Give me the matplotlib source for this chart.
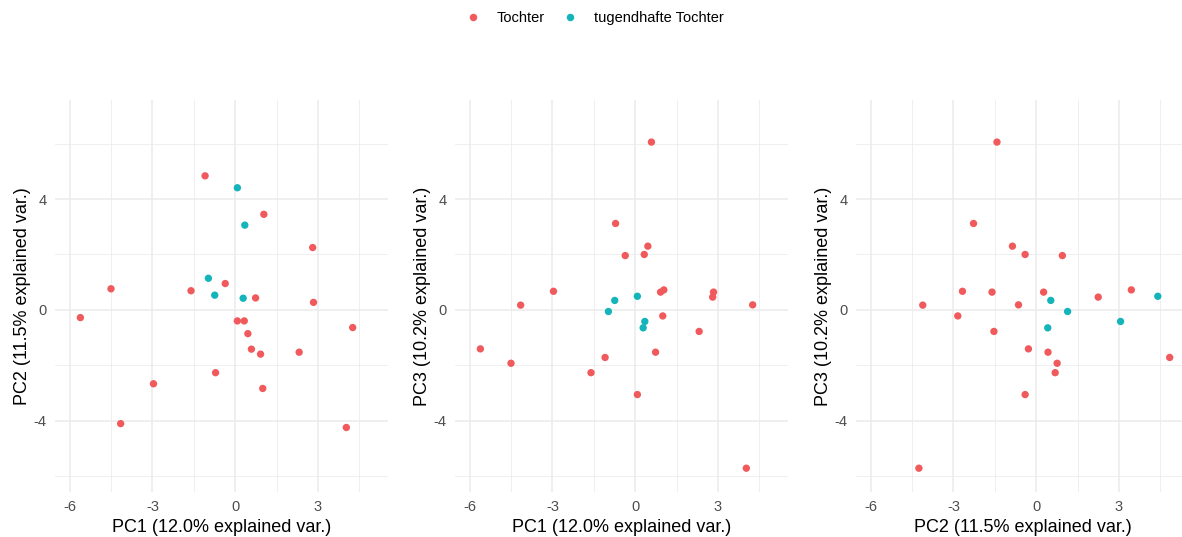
import matplotlib.pyplot as plt
from matplotlib.lines import Line2D
from matplotlib.ticker import MultipleLocator

plt.rcParams['font.family'] = ['Liberation Sans', 'DejaVu Sans']
plt.rcParams['axes.unicode_minus'] = False

pc1 = [-5.61, -4.50, -4.15, -2.96, -1.60, -1.09, -0.71, -0.36, 0.08, 0.33, 0.46,
       0.59, 0.74, 0.92, 1.00, 1.04, 2.32, 2.81, 2.84, 4.03, 4.26,
       0.08, 0.35, -0.97, -0.74, 0.29]
pc2 = [-0.28, 0.76, -4.11, -2.67, 0.69, 4.84, -2.27, 0.95, -0.40, -0.40, -0.86,
       -1.42, 0.43, -1.60, -2.84, 3.45, -1.53, 2.25, 0.27, -4.25, -0.64,
       4.41, 3.06, 1.14, 0.53, 0.42]
pc3 = [-1.41, -1.93, 0.17, 0.67, -2.27, -1.72, 3.12, 1.96, -3.06, 2.00, 2.30,
       6.06, -1.53, 0.64, -0.22, 0.72, -0.78, 0.46, 0.64, -5.72, 0.18,
       0.49, -0.42, -0.06, 0.34, -0.65]
group = ['Tochter'] * 21 + ['tugendhafte Tochter'] * 5

groups = ['Tochter', 'tugendhafte Tochter']
colors = {'Tochter': '#F05A5C', 'tugendhafte Tochter': '#14B4BA'}

scores = {'PC1': pc1, 'PC2': pc2, 'PC3': pc3}
labels = {'PC1': 'PC1 (12.0% explained var.)',
          'PC2': 'PC2 (11.5% explained var.)',
          'PC3': 'PC3 (10.2% explained var.)'}
pairs = [('PC1', 'PC2'), ('PC1', 'PC3'), ('PC2', 'PC3')]

W, H = 1182, 537
fig = plt.figure(figsize=(W / 100, H / 100), dpi=100)

lefts = [55, 455, 856]
for left, (px, py) in zip(lefts, pairs):
    ax = fig.add_axes([left / W, (H - 492) / H, 333 / W, 392 / H])
    for g in groups:
        xs = [v for v, k in zip(scores[px], group) if k == g]
        ys = [v for v, k in zip(scores[py], group) if k == g]
        ax.scatter(xs, ys, s=28, color=colors[g], edgecolors='none', zorder=3)
    ax.set_xlim(-6.53, 5.54)
    ax.set_ylim(-6.58, 7.58)
    ax.xaxis.set_major_locator(MultipleLocator(3))
    ax.xaxis.set_minor_locator(MultipleLocator(1.5))
    ax.yaxis.set_major_locator(MultipleLocator(4))
    ax.yaxis.set_minor_locator(MultipleLocator(2))
    ax.grid(which='major', color='#EBEBEB', linewidth=1.1)
    ax.grid(which='minor', color='#EBEBEB', linewidth=0.55)
    ax.set_axisbelow(True)
    for s in ax.spines.values():
        s.set_visible(False)
    ax.tick_params(which='both', length=0, labelsize=10.5, labelcolor='#4D4D4D')
    ax.tick_params(axis='x', pad=6)
    ax.tick_params(axis='y', pad=6)
    ax.set_xlabel(labels[px], fontsize=13, labelpad=3)
    ax.set_ylabel(labels[py], fontsize=13, labelpad=2)

handles = [Line2D([], [], marker='o', linestyle='none', markersize=5.4,
                  markerfacecolor=colors[g], markeredgecolor='none') for g in groups]
fig.legend(handles, groups, loc='center', bbox_to_anchor=(0.5, 1 - 18 / H), ncol=2,
           frameon=False, fontsize=10.5, handlelength=2, handletextpad=0.65,
           columnspacing=0.7)

fig.savefig('out.png', dpi=100)
plt.close(fig)
